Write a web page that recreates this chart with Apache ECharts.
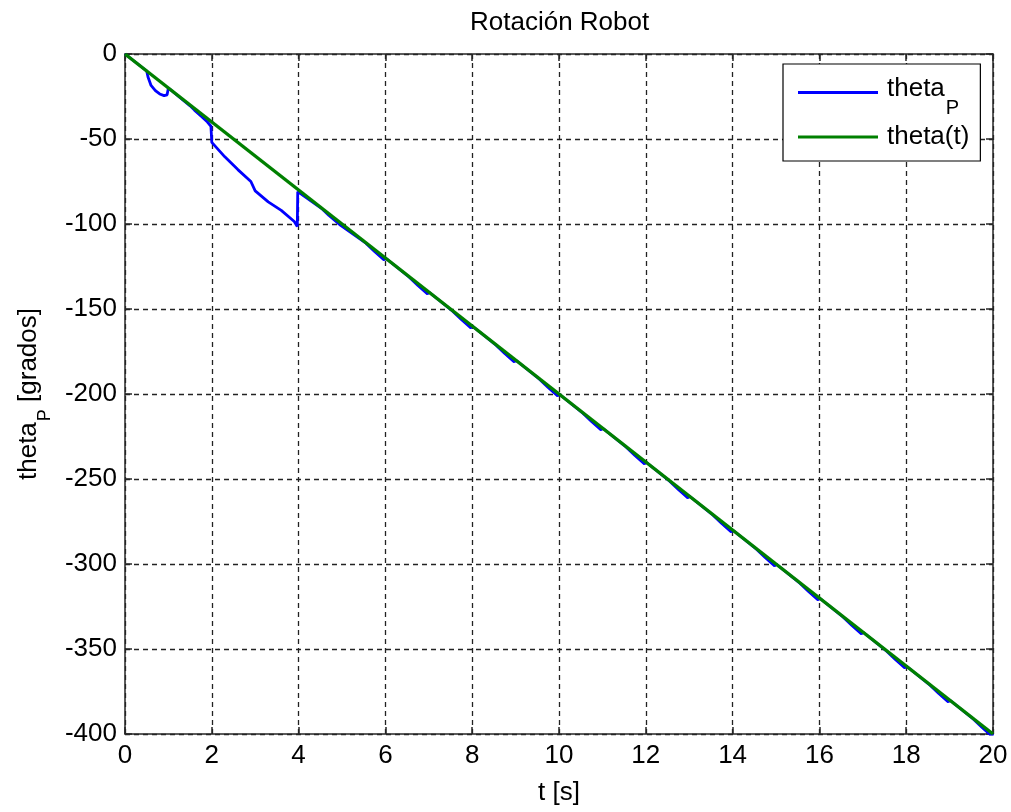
<!DOCTYPE html>
<html>
<head>
<meta charset="utf-8">
<title>Rotación Robot</title>
<script src="https://cdn.jsdelivr.net/npm/echarts@6/dist/echarts.min.js"></script>
<style>
  html, body { margin: 0; padding: 0; background: #fff; }
  #chart { width: 1011px; height: 812px; }
</style>
</head>
<body>
<div id="chart"></div>
<script>
// Measured robot heading theta_P (time in s, angle in degrees)
const tP = [
  0, 0.5, 0.53, 0.6, 0.7, 0.8, 0.9, 0.97, 1.0,
  1.5, 1.6, 1.75, 1.9, 1.98, 2.0, 2.3, 2.6, 2.9, 3.0, 3.3, 3.6, 3.9, 3.97, 3.98,
  4.55, 4.7, 4.97, 5.0,
  5.55, 5.75, 5.97, 6.0,
  6.55, 6.75, 6.97, 7.0,
  7.55, 7.75, 7.97, 8.0,
  8.55, 8.75, 8.97, 9.0,
  9.55, 9.75, 9.97, 10.0,
  10.55, 10.75, 10.97, 11.0,
  11.55, 11.75, 11.97, 12.0,
  12.55, 12.75, 12.97, 13.0,
  13.55, 13.75, 13.97, 14.0,
  14.55, 14.75, 14.97, 15.0,
  15.55, 15.75, 15.97, 16.0,
  16.55, 16.75, 16.97, 17.0,
  17.55, 17.75, 17.97, 18.0,
  18.55, 18.75, 18.97, 19.0,
  19.55, 19.75, 19.97, 20.0
];
const thetaP = [
  0, -10, -13.5, -18.5, -21.5, -23.5, -24.5, -24, -20,
  -30.5, -33, -36.5, -40, -42.5, -52, -60.5, -68, -75, -80.5, -87, -92, -98.5, -101.5, -81,
  -91.3, -95, -100.8, -100,
  -111.3, -116.2, -121.2, -120,
  -131.3, -136.2, -141.2, -140,
  -151.3, -156.2, -161.2, -160,
  -171.3, -176.2, -181.2, -180,
  -191.3, -196.2, -201.2, -200,
  -211.3, -216.2, -221.2, -220,
  -231.3, -236.2, -241.2, -240,
  -251.3, -256.2, -261.2, -260,
  -271.3, -276.2, -281.2, -280,
  -291.3, -296.2, -301.2, -300,
  -311.3, -316.2, -321.2, -320,
  -331.3, -336.2, -341.2, -340,
  -351.3, -356.2, -361.2, -360,
  -371.3, -376.2, -381.2, -380,
  -391.3, -396.2, -401.2, -400
];

// Reference heading theta(t)
const tRef = [0, 20];
const thetaRef = [0, -400];

// Axis ranges
const xMin = 0, xMax = 20, xStep = 2;
const yMin = -400, yMax = 0, yStep = 50;

const FONT = '"Liberation Sans", Arial, sans-serif';
const FS = 26;
// main text hugs the top of a tall line, the subscript drops to its bottom
const rich = {
  m: { fontFamily: FONT, fontSize: FS, color: '#000', lineHeight: 26, verticalAlign: 'top' },
  g: { fontFamily: FONT, fontSize: FS, color: '#000', lineHeight: 26, verticalAlign: 'top', padding: [0, 0, 0, 4] },
  s: { fontFamily: FONT, fontSize: 20, color: '#000', lineHeight: 42, verticalAlign: 'bottom', padding: [0, 0, 0, 1] },
  y: { fontFamily: FONT, fontSize: 18, color: '#000', lineHeight: 38, verticalAlign: 'bottom', padding: [0, 0, 0, 1] }
};

const chart = echarts.init(document.getElementById('chart'), null, { renderer: 'canvas' });

const frameLine = { show: true, onZero: false, lineStyle: { color: '#262626', width: 1.5 } };
const tick = { show: true, inside: true, length: 7, lineStyle: { color: '#262626', width: 1.5 } };
const grid = { show: true, lineStyle: { color: '#222', width: 1.3, type: [5, 4] } };

chart.setOption({
  animation: false,
  backgroundColor: '#fff',
  title: {
    text: 'Rotación Robot',
    left: 465,
    top: 5,
    textStyle: { fontFamily: FONT, fontSize: FS, fontWeight: 'normal', color: '#000' }
  },
  grid: { left: 125, right: 18, top: 54, bottom: 78, containLabel: false },
  legend: {
    left: 783,
    top: 64,
    orient: 'vertical',
    icon: 'rect',
    itemWidth: 80,
    itemHeight: 3,
    itemGap: 6,
    padding: [12, 11, 11, 15],
    backgroundColor: '#fff',
    borderColor: '#000',
    borderWidth: 1.2,
    borderRadius: 0,
    textStyle: { fontFamily: FONT, fontSize: FS, color: '#000', rich: rich },
    formatter: function (name) {
      return name === 'thetaP' ? '{g|theta}{s|P}' : '{g|' + name + '}';
    },
    data: [
      { name: 'thetaP', textStyle: { padding: [9, 0, 0, 0] } },
      { name: 'theta(t)' }
    ]
  },
  xAxis: [
    {
      type: 'value', min: xMin, max: xMax, interval: xStep, position: 'bottom',
      name: 't [s]', nameLocation: 'middle', nameGap: 46,
      nameTextStyle: { fontFamily: FONT, fontSize: FS, color: '#000' },
      axisLine: frameLine, axisTick: tick, splitLine: grid,
      axisLabel: { fontFamily: FONT, fontSize: FS, color: '#000', margin: 9 }
    },
    {
      type: 'value', min: xMin, max: xMax, interval: xStep, position: 'top',
      axisLine: frameLine, axisTick: tick, splitLine: { show: false },
      axisLabel: { show: false }
    }
  ],
  yAxis: [
    {
      type: 'value', min: yMin, max: yMax, interval: yStep, position: 'left',
      name: '{m|theta}{y|P}{m| [grados]}', nameLocation: 'middle', nameGap: 71,
      nameTextStyle: { rich: rich },
      axisLine: frameLine, axisTick: tick, splitLine: grid,
      axisLabel: { fontFamily: FONT, fontSize: FS, color: '#000', margin: 8 }
    },
    {
      type: 'value', min: yMin, max: yMax, interval: yStep, position: 'right',
      axisLine: frameLine, axisTick: tick, splitLine: { show: false },
      axisLabel: { show: false }
    }
  ],
  series: [
    {
      name: 'thetaP', type: 'line', xAxisIndex: 0, yAxisIndex: 0,
      showSymbol: false, color: '#0000ff',
      lineStyle: { color: '#0000ff', width: 2.8 },
      data: tP.map((t, i) => [t, thetaP[i]])
    },
    {
      name: 'theta(t)', type: 'line', xAxisIndex: 0, yAxisIndex: 0,
      showSymbol: false, color: '#008000',
      lineStyle: { color: '#008000', width: 3.4 },
      data: tRef.map((t, i) => [t, thetaRef[i]])
    }
  ]
});
</script>
</body>
</html>
